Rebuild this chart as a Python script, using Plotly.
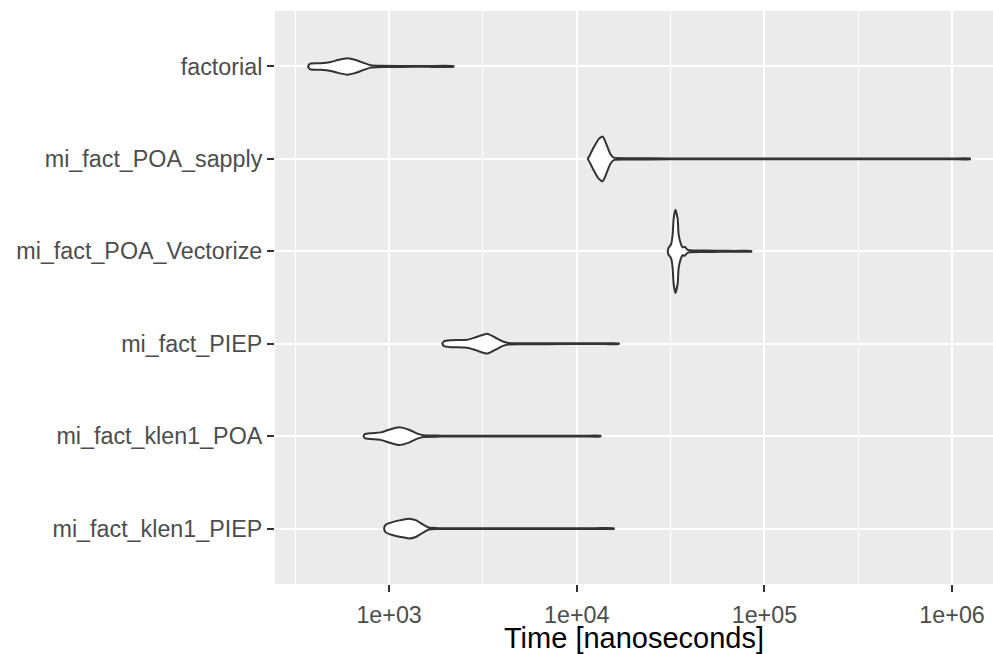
import plotly.graph_objects as go

# Categories, bottom to top (numeric positions 1..6)
categories = ["mi_fact_klen1_PIEP", "mi_fact_klen1_POA", "mi_fact_PIEP",
              "mi_fact_POA_Vectorize", "mi_fact_POA_sapply", "factorial"]

# Violin outlines: time (ns) and relative density (half-width)
factorial_time = [370, 375, 383, 432, 489, 533, 600, 664, 733, 798, 902, 1153, 1600, 2207]
factorial_density = [0, 2, 3, 3.3, 4.5, 6.5, 8.3, 6.5, 3.5, 1.2, 0.6, 0.45, 0.4, 0.4]

sapply_time = [11440, 11830, 12320, 13090, 13750, 14090, 14510, 15110, 15740, 18550,
               31530, 100000, 400000, 1000000, 1245500]
sapply_density = [0, 5, 11.7, 20, 22.7, 19, 13, 5, 1.2, 0.7, 0.5, 0.45, 0.4, 0.4, 0.4]

vectorize_time = [30510, 30760, 31250, 31800, 32430, 32830, 33520, 34480, 34900, 35940,
                  36650, 37570, 38680, 39940, 49430, 58180, 70000, 85070]
vectorize_density = [0, 3, 5, 7, 17, 33, 42, 33, 17, 7, 4, 4.5, 2, 1, 0.8, 0.5, 0.4, 0.4]

piep_time = [1921, 1960, 2127, 2610, 2891, 3335, 3693, 4009, 4294, 5017, 9000, 14000, 16730]
piep_density = [0, 2.5, 3.5, 4, 6.5, 10, 6, 2.5, 0.8, 0.5, 0.4, 0.4, 0.4]

klen1_poa_time = [730, 742, 798, 902, 999, 1129, 1276, 1415, 1522, 1883, 5000, 11000, 13370]
klen1_poa_density = [0, 2, 3, 3.8, 6.5, 9, 6.5, 2.5, 0.8, 0.5, 0.4, 0.4, 0.4]

klen1_piep_time = [940, 948, 971, 1041, 1153, 1276, 1386, 1504, 1631, 1808, 5000, 12500, 15740]
klen1_piep_density = [0, 2.5, 4.5, 6.5, 8.5, 10, 8.5, 4.5, 1, 0.5, 0.4, 0.4, 0.4]

x_tick_values = [1e3, 1e4, 1e5, 1e6]
x_tick_labels = ["1e+03", "1e+04", "1e+05", "1e+06"]
x_minor_values = [316.23, 3162.3, 31623, 316228]

violins = [
    (klen1_piep_time, klen1_piep_density),
    (klen1_poa_time, klen1_poa_density),
    (piep_time, piep_density),
    (vectorize_time, vectorize_density),
    (sapply_time, sapply_density),
    (factorial_time, factorial_density),
]

max_density = max(max(d) for _, d in violins)
half_width = 0.45  # geom_violin width 0.9

fig = go.Figure()
for pos, (t, d) in enumerate(violins, start=1):
    scaled = [v / max_density * half_width for v in d]
    xs = list(t) + list(reversed(t)) + [t[0]]
    ys = [pos + s for s in scaled] + [pos - s for s in reversed(scaled)] + [pos + scaled[0]]
    fig.add_trace(go.Scatter(
        x=xs, y=ys, mode="lines", fill="toself", fillcolor="white",
        line=dict(color="#333333", width=2, shape="spline", smoothing=0.5),
        hoverinfo="skip", showlegend=False,
    ))

fig.update_layout(
    width=993, height=654,
    margin=dict(l=275, r=0, t=11, b=70),
    paper_bgcolor="white", plot_bgcolor="#EBEBEB",
    font=dict(family="Liberation Sans, Arial, sans-serif"),
    showlegend=False,
)
fig.update_xaxes(
    type="log", range=[2.392, 6.218], automargin=False,
    tickmode="array", tickvals=x_tick_values, ticktext=x_tick_labels,
    showgrid=True, gridcolor="white", gridwidth=2, zeroline=False,
    ticks="outside", ticklen=7, tickwidth=2, tickcolor="#333333",
    tickfont=dict(size=23.3, color="#4D4D4D"), ticklabelstandoff=3,
    minor=dict(tickmode="array", tickvals=x_minor_values, showgrid=True,
               gridcolor="white", gridwidth=1, ticks=""),
    title=dict(text="Time [nanoseconds]", font=dict(size=29, color="black"), standoff=5),
    showline=False,
)
fig.update_yaxes(
    range=[0.4, 6.6], automargin=False,
    tickmode="array", tickvals=[1, 2, 3, 4, 5, 6], ticktext=categories,
    showgrid=True, gridcolor="white", gridwidth=2, zeroline=False,
    ticks="outside", ticklen=7, tickwidth=2, tickcolor="#333333",
    tickfont=dict(size=23.3, color="#4D4D4D"),
    showline=False,
)

fig.write_html("out.html", config={"displayModeBar": False},
               post_script="document.body.style.margin='0';")
